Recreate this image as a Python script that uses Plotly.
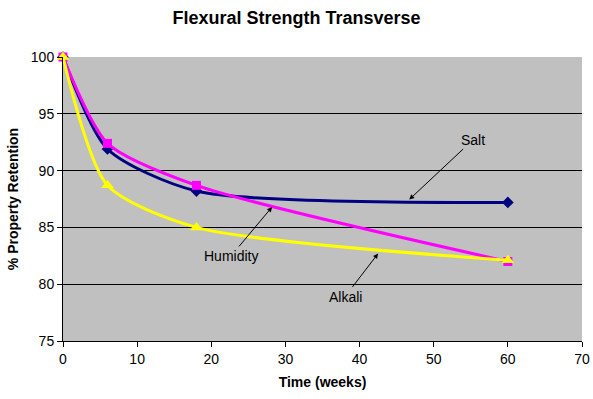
import plotly.graph_objects as go

time_weeks = [0, 6, 18, 60]
salt = [100, 91.9, 88.2, 87.2]
humidity = [100, 92.4, 88.7, 82.0]
alkali = [100, 88.7, 85.0, 82.1]

fig = go.Figure()
series = [
    ("Salt", salt, "#000080", "diamond", 9),
    ("Humidity", humidity, "#FF00FF", "square", 9),
    ("Alkali", alkali, "#FFFF00", "triangle-up", 11),
]
for name, vals, col, sym, sz in series:
    fig.add_trace(go.Scatter(
        x=time_weeks, y=vals, name=name, mode="lines+markers",
        line=dict(color=col, width=3, shape="spline", smoothing=0.7),
        marker=dict(color=col, symbol=sym, size=sz),
        cliponaxis=False,
    ))

font = "Arial, Liberation Sans, sans-serif"
ann = [
    ("Salt", 46.7, 87.45, 64, -60),
    ("Humidity", 28.2, 86.8, -41, 49),
    ("Alkali", 42.5, 82.7, -33, 43),
]
for txt, x, y, ax, ay in ann:
    fig.add_annotation(x=x, y=y, text=txt, showarrow=True, ax=ax, ay=ay,
                       arrowhead=2, arrowsize=1, arrowwidth=1, arrowcolor="black",
                       font=dict(family=font, size=14, color="black"))

fig.update_layout(
    width=593, height=399,
    margin=dict(l=63, r=11, t=57, b=58, autoexpand=False),
    paper_bgcolor="white", plot_bgcolor="#C0C0C0",
    showlegend=False,
    font=dict(family=font, size=14, color="black"),
    title=dict(text="<b>Flexural Strength Transverse</b>", x=0.5, xanchor="center",
               y=0.955, yanchor="middle", font=dict(size=18, family=font)),
    xaxis=dict(range=[0, 70], dtick=10, showgrid=False, zeroline=False,
               showline=True, linecolor="black", linewidth=1, automargin=False,
               ticks="outside", ticklen=5, tickcolor="black",
               title=dict(text="<b>Time (weeks)</b>", font=dict(size=14), standoff=11)),
    yaxis=dict(range=[75, 100], dtick=5, showgrid=True, gridcolor="black", gridwidth=1,
               zeroline=False, showline=True, linecolor="black", linewidth=1, automargin=False,
               ticks="outside", ticklen=5, tickcolor="black",
               title=dict(text="<b>% Property Retention</b>", font=dict(size=14), standoff=8)),
)
fig.write_html("out.html")
